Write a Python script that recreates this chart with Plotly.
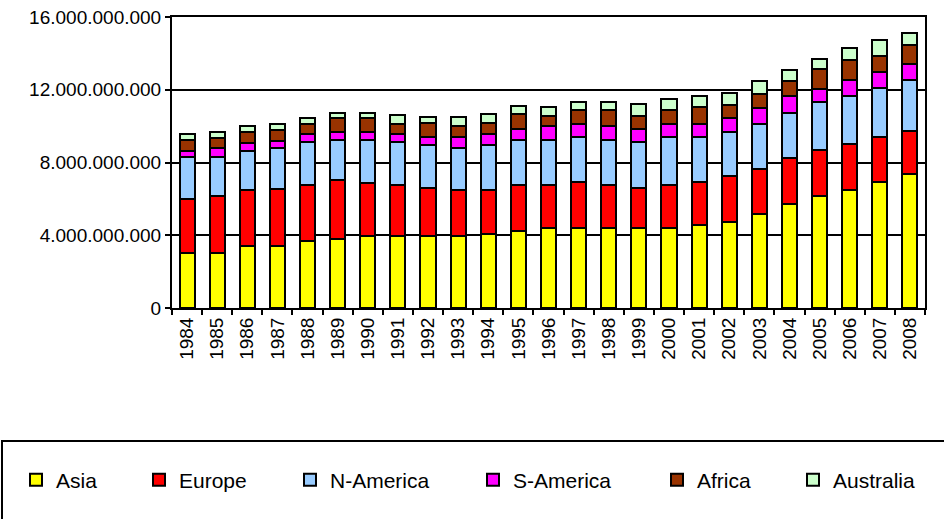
import plotly.graph_objects as go

years = [str(y) for y in range(1984, 2009)]

asia = [3.05, 3.05, 3.39, 3.39, 3.66, 3.80, 3.98, 3.98, 3.98, 3.98, 4.09, 4.24, 4.40,
        4.40, 4.40, 4.40, 4.40, 4.55, 4.71, 5.18, 5.73, 6.15, 6.48, 6.92, 7.39]
europe = [2.97, 3.10, 3.09, 3.18, 3.08, 3.25, 2.91, 2.76, 2.63, 2.50, 2.39, 2.50, 2.36,
          2.51, 2.36, 2.21, 2.36, 2.37, 2.54, 2.48, 2.54, 2.56, 2.52, 2.49, 2.32]
n_america = [2.31, 2.18, 2.18, 2.23, 2.39, 2.19, 2.35, 2.39, 2.34, 2.32, 2.47, 2.50, 2.48,
             2.50, 2.48, 2.54, 2.65, 2.49, 2.44, 2.45, 2.46, 2.63, 2.64, 2.67, 2.81]
s_america = [0.33, 0.45, 0.42, 0.39, 0.41, 0.41, 0.41, 0.41, 0.44, 0.59, 0.59, 0.59, 0.74,
             0.72, 0.74, 0.68, 0.70, 0.70, 0.74, 0.88, 0.91, 0.70, 0.90, 0.89, 0.91]
africa = [0.58, 0.57, 0.61, 0.61, 0.59, 0.78, 0.81, 0.59, 0.78, 0.63, 0.63, 0.82, 0.59,
          0.77, 0.92, 0.74, 0.77, 0.92, 0.73, 0.78, 0.86, 1.11, 1.07, 0.88, 1.01]
australia = [0.33, 0.34, 0.31, 0.31, 0.30, 0.29, 0.26, 0.48, 0.31, 0.46, 0.48, 0.44, 0.50,
             0.44, 0.44, 0.65, 0.61, 0.64, 0.65, 0.73, 0.61, 0.55, 0.68, 0.86, 0.70]

series_names = ["Asia", "Europe", "N-America", "S-America", "Africa", "Australia"]
series_values = [asia, europe, n_america, s_america, africa, australia]
colors = ["#FFFF00", "#FF0000", "#99CCFF", "#FF00FF", "#993300", "#CCFFCC"]

y_ticks = [0, 4e9, 8e9, 12e9, 16e9]

FONT = "Liberation Sans, Arial, sans-serif"

W, H = 944, 519
# plot area in page pixels: x 172..925, y 17..308
PL, PR, PT, PB = 172, 925, 17, 308
ML, MR, MT, MB = PL, W - PR, PT, H - PB
PW = PR - PL
PH = PB - PT


def paper_x(px):
    return (px - PL) / PW


def paper_y(py):
    return (PB - py) / PH


def cont_x(px):
    return px / W


def cont_y(py):
    return 1 - py / H


fig = go.Figure()
legend_keys = ["legend", "legend2", "legend3", "legend4", "legend5", "legend6"]
for name, vals, col, lk in zip(series_names, series_values, colors, legend_keys):
    fig.add_trace(go.Bar(
        x=years, y=[v * 1e9 for v in vals], name=name,
        marker=dict(color=col, line=dict(color="black", width=2)),
        legend=lk,
    ))

# legend text start positions (page pixels) in the reference
legend_text_x = [52, 175, 326, 509, 693, 829]
layout_legends = {}
for lk, tx in zip(legend_keys, legend_text_x):
    layout_legends[lk] = dict(
        xref="container", yref="container",
        x=cont_x(tx - 36), y=cont_y(480),
        xanchor="left", yanchor="middle", orientation="h",
        bgcolor="rgba(0,0,0,0)", borderwidth=0,
        font=dict(family=FONT, size=21, color="black"),
    )

fig.update_layout(
    width=W, height=H,
    margin=dict(l=ML, r=MR, t=MT, b=MB, autoexpand=False),
    paper_bgcolor="white", plot_bgcolor="white",
    barmode="stack", bargap=0.5,
    separators=",.",
    showlegend=True,
    font=dict(family=FONT, size=19, color="black"),
    **layout_legends,
)

fig.update_yaxes(
    range=[0, 16e9], tickvals=y_ticks, tickformat=",d",
    showgrid=True, gridcolor="black", gridwidth=2,
    showline=True, linecolor="black", linewidth=2, mirror=True,
    ticks="outside", ticklen=5, tickwidth=2, tickcolor="black",
    tickfont=dict(family=FONT, size=19, color="black"),
    ticklabeloverflow="allow",
    zeroline=False, automargin=False,
)
fig.update_xaxes(
    type="category", tickangle=-90,
    showline=True, linecolor="black", linewidth=2, mirror=True,
    ticks="outside", ticklen=5, tickwidth=2, tickcolor="black",
    tickson="boundaries",
    tickfont=dict(family=FONT, size=19, color="black"),
    showgrid=False, automargin=False,
)

# legend frame
fig.add_shape(
    type="rect", xref="paper", yref="paper",
    x0=paper_x(2), x1=paper_x(960),
    y0=paper_y(441), y1=paper_y(560),
    line=dict(color="black", width=2), fillcolor="rgba(0,0,0,0)",
)

fig.write_html(
    "out.html",
    config={"displayModeBar": False},
    post_script="document.body.style.margin='0';document.body.style.overflow='hidden';",
)
